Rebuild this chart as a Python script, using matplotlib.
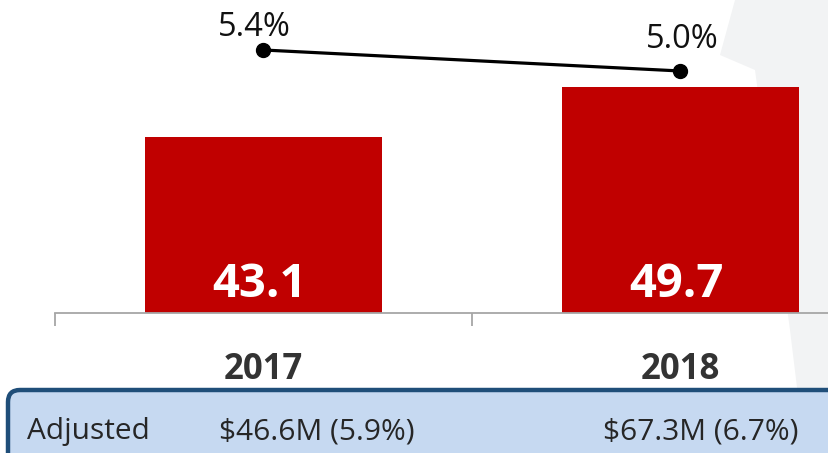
import matplotlib.pyplot as plt
import numpy as np
from matplotlib.patches import FancyBboxPatch, Polygon
from matplotlib import transforms

# datos
anios = ['2017', '2018']
totales = [43.1, 49.7]
margen = [5.4, 5.0]
ajustado_etiqueta = 'Adjusted'
ajustado = ['$46.6M (5.9%)', '$67.3M (6.7%)']

plt.rcParams['font.family'] = ['Open Sans', 'DejaVu Sans']

W, H = 829, 453
fig = plt.figure(figsize=(W / 100, H / 100), dpi=100)

# fondo gris muy claro a la derecha (foto difuminada)
fondo = Polygon([(735 / W, 1), (1, 1), (1, 0), (805 / W, 0), (790 / W, 1 - 330 / H),
                 (755 / W, 1 - 70 / H), (720 / W, 1 - 55 / H)],
                closed=True, transform=fig.transFigure, facecolor='#F2F3F4',
                edgecolor='none', zorder=-5)
fig.patches.append(fondo)

ax = fig.add_axes([55 / W, 1 - 313 / H, (W - 55) / W, 313 / H])
ax.set_zorder(2)
ax.patch.set_alpha(0)

x = np.arange(len(anios))
ax.bar(x, totales, width=0.57, color='#C00000', zorder=2)
ax.set_xlim(-0.5, 0.5 + (829 - 472) / 417)
ax.set_ylim(19.87, 61.2)

for s in ['top', 'right', 'left']:
    ax.spines[s].set_visible(False)
ax.spines['bottom'].set_color('#A6A6A6')
ax.spines['bottom'].set_linewidth(1.3)
ax.set_yticks([])
ax.set_xticks([-0.5, 0.5])
ax.set_xticklabels([])
ax.tick_params(axis='x', length=9, width=1.3, color='#A6A6A6')

trans = transforms.blended_transform_factory(ax.transData, ax.transAxes)
for xi, v, a in zip(x, totales, anios):
    ax.text(xi - 0.01, (313 - 297) / 313, f'{v:.1f}', transform=trans, ha='center',
            va='baseline', fontsize=34, fontweight='bold', color='white', zorder=3)
    ax.text(xi, -(379 - 313) / 313, a, transform=trans, ha='center', va='baseline',
            fontsize=25, fontweight='bold', color='#333333')

# linea de margen
ax2 = ax.twinx()
ax2.set_zorder(3)
ax2.plot(x, margen, color='black', lw=2.3, marker='o', ms=10, zorder=4)
ax2.set_ylim(5.0 - (313 - 71) / 52.5, 5.4 + 50 / 52.5)
ax2.axis('off')
desplaz = [(-9, 14), (2, 23)]
for xi, p, d in zip(x, margen, desplaz):
    ax2.annotate(f'{p:.1f}%', (xi, p), xytext=d, textcoords='offset pixels',
                 ha='center', va='baseline', fontsize=23.5, color='#111111')

# caja inferior
caja = FancyBboxPatch((0.08, -0.3), 8.6, (H - 390) / 100 + 0.3,
                      boxstyle='round,pad=0,rounding_size=0.12',
                      transform=fig.dpi_scale_trans, facecolor='#C6D9F1',
                      edgecolor='#1F4E79', lw=3.2, zorder=1)
fig.patches.append(caja)
fig.text(27 / W, 1 - 439 / H, ajustado_etiqueta, ha='left', va='baseline',
         fontsize=21.5, color='#262626')
for xp, t in zip([219, 603], ajustado):
    fig.text(xp / W, 1 - 439 / H, t, ha='left', va='baseline', fontsize=21.5,
             color='#262626')

fig.savefig('out.png', dpi=100)
